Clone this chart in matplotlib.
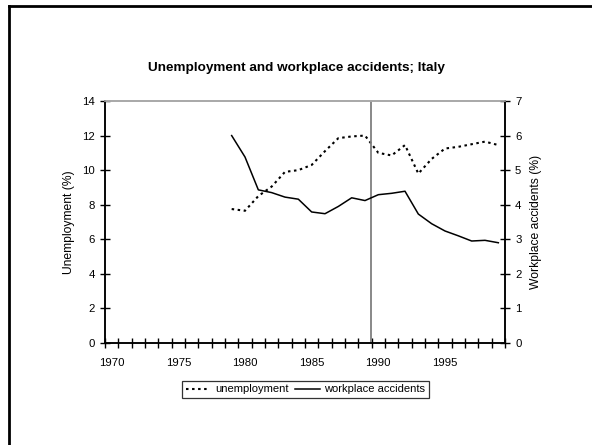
import matplotlib
matplotlib.use("Agg")
import matplotlib.pyplot as plt
from matplotlib.lines import Line2D
import numpy as np

plt.rcParams["font.family"] = ["Liberation Sans", "DejaVu Sans"]

# x categories (one per year)
years = list(range(1970, 2000))
year_labels = ["1970", "1975", "1980", "1985", "1990", "1995"]

# data only exists from 1979 on
data_years = list(range(1979, 2000))
unemployment = [7.75, 7.65, 8.5, 9.05, 9.9, 10.0, 10.3, 11.1, 11.85, 11.95, 12.0,
                11.0, 10.85, 11.45, 9.8, 10.65, 11.25, 11.35, 11.5, 11.65, 11.45]
accidents = [6.0, 5.38, 4.43, 4.35, 4.22, 4.16, 3.79, 3.74, 3.95, 4.2, 4.12,
             4.29, 4.33, 4.39, 3.73, 3.45, 3.24, 3.1, 2.95, 2.97, 2.9]

divider = 1989.45  # vertical reference line

fig = plt.figure(figsize=(5.92, 4.45), dpi=100)
ax = fig.add_axes([105 / 592, 1 - 343 / 445, 400 / 592, 242 / 445])
ax2 = ax.twinx()

pos = [y - years[0] for y in data_years]
l1, = ax.plot(pos, unemployment, color="black", lw=1.5, ls=(0, (1.2, 1.7)),
              label="unemployment")
l2, = ax2.plot(pos, accidents, color="black", lw=1.1, label="workplace accidents")
ax.axvline(divider - years[0], color="#7f7f7f", lw=1.3)

ax.set_xlim(-0.5, len(years) - 0.5)
ax.set_ylim(0, 14)
ax2.set_ylim(0, 7)

ax.set_xticks([int(l) - years[0] for l in year_labels])
ax.set_xticklabels(year_labels)
ax.set_xticks(np.arange(-0.5, len(years)), minor=True)
ax.tick_params(axis="x", which="major", length=0, pad=11, labelsize=8.2)
ax.tick_params(axis="x", which="minor", direction="inout", length=6.5, width=1)
ax.set_yticks(range(0, 15, 2))
ax.tick_params(axis="y", direction="inout", length=6.5, width=1, labelsize=8.2, pad=4)
ax2.set_yticks(range(0, 8))
ax2.tick_params(axis="y", direction="inout", length=6.5, width=1, labelsize=8.2, pad=4)

for a in (ax, ax2):
    a.spines["top"].set_color("#a8a8a8")
    a.spines["top"].set_linewidth(1.2)
    for s in ("left", "right", "bottom"):
        a.spines[s].set_linewidth(1.1)

ax.set_ylabel("Unemployment (%)", fontsize=8.7, labelpad=5)
ax2.set_ylabel("Workplace accidents (%)", fontsize=8.7, labelpad=6)

fig.text(0.5, 1 - 68 / 445, "Unemployment and workplace accidents; Italy",
         ha="center", va="center", fontsize=9.7, fontweight="bold")

leg = fig.legend(handles=[l1, l2], loc="center", ncol=2,
                 bbox_to_anchor=(305.5 / 592, 1 - 389.5 / 445),
                 fontsize=8, frameon=True, fancybox=False, handlelength=2.2,
                 handletextpad=0.4, columnspacing=0.6, borderpad=0.35,
                 borderaxespad=0)
leg.get_frame().set_edgecolor("black")
leg.get_frame().set_linewidth(0.9)

# outer chart border (runs past the right and bottom edges)
fig.add_artist(Line2D([8.5 / 592, 8.5 / 592], [0, 1 - 6 / 445],
                      color="black", lw=2, transform=fig.transFigure))
fig.add_artist(Line2D([8.5 / 592, 1], [1 - 6 / 445, 1 - 6 / 445],
                      color="black", lw=2, transform=fig.transFigure))

fig.savefig("out.png", dpi=100)
